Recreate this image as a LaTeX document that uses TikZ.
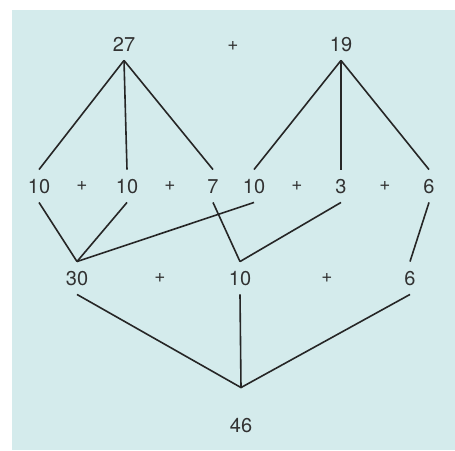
\documentclass[tikz,border=0pt]{standalone}
\usepackage{fontspec}
\setsansfont{TeX Gyre Heros}
\definecolor{nen}{RGB}{212,235,236}
\definecolor{chu}{RGB}{50,50,50}
\tikzset{so/.style={font=\sffamily\fontsize{20}{20}\selectfont,text=chu,inner xsep=1pt,inner ysep=9pt,text height=14.5pt,text depth=0pt},
	cong/.style={font=\sffamily\fontsize{19}{19}\selectfont,text=chu,inner sep=1pt},
	noi/.style={line width=1.6pt,draw=black!85}}

\begin{document}
\begin{tikzpicture}[x=1pt,y=-1pt]
	\useasboundingbox (0,0) rectangle (455,450);
	\fill[nen] (12,10) rectangle (455,450);
	
	\foreach \ten/\giatri/\x/\y in {A/27/124/44,B/19/341/44,
		C1/10/39/186,C2/10/127/186,C3/7/213/186,C4/10/254/186,C5/3/341/186,C6/6/429/186,
		D1/30/77/278,D2/10/240/278,D3/6/410/278,E/46/241/425}{
		\node[so] (\ten) at (\x,\y) {\giatri};
	}
	\foreach \x/\y in {233/46,82/186,170/186,297/186,385/186,160/278,327/278}{
		\node[cong] (p\x\y) at (\x,\y) {+};
	}
	
	\foreach \u/\v in {A/C1,A/C2,A/C3,B/C4,B/C5,B/C6,
		C1/D1,C2/D1,C4/D1,C3/D2,C5/D2,C6/D3}{
		\draw[noi] (\u.south)--(\v.north);
	}
	\coordinate (T) at ([yshift=21pt]E.north);
	\draw[noi] (D1.south)--(T)--(D3.south) (D2.south)--(T);
\end{tikzpicture}
\end{document}
